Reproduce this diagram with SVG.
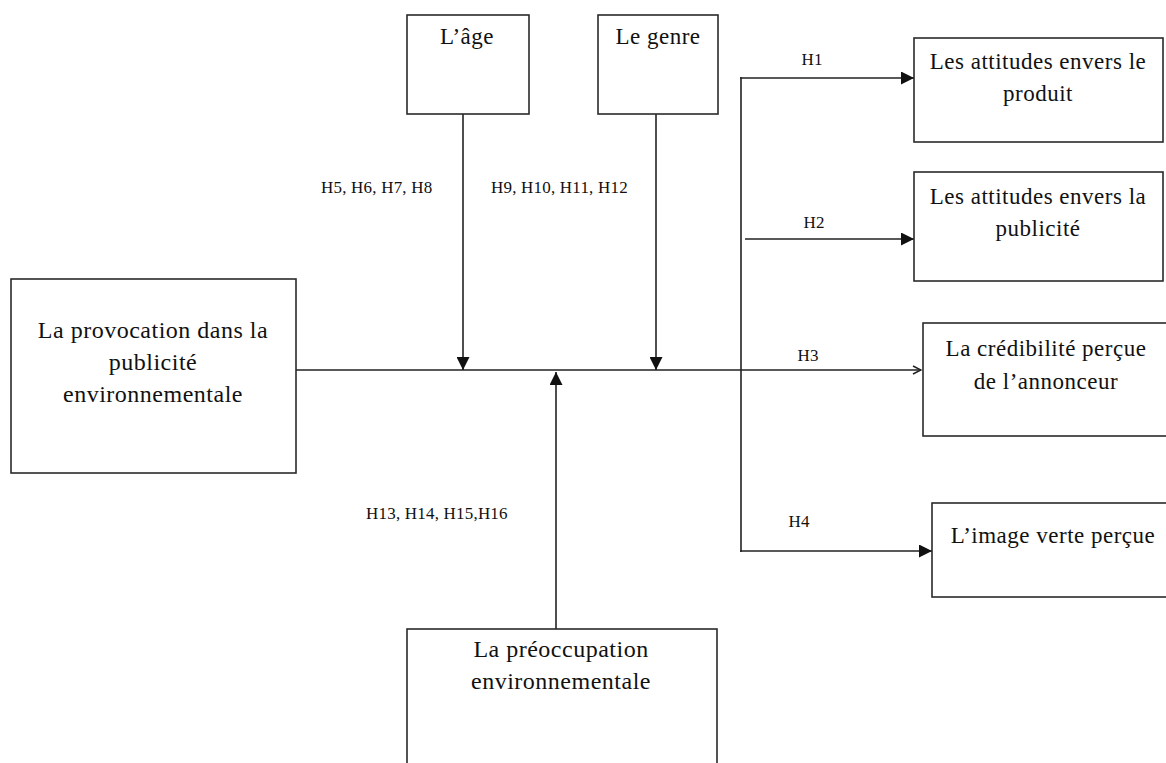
<svg xmlns="http://www.w3.org/2000/svg" width="1166" height="763" viewBox="0 0 1166 763">
<style>
.box{fill:#fff;stroke:#2a2a2a;stroke-width:1.6}
.t{font-family:"Liberation Serif","Times New Roman",serif;fill:#111;text-anchor:middle}
.big{font-size:24px;letter-spacing:0.5px}
.mid{font-size:23px;letter-spacing:0.5px}
.lab{font-family:"Liberation Serif","Times New Roman",serif;fill:#111;font-size:17px;letter-spacing:0.2px}
.ln{stroke:#222;stroke-width:1.6;fill:none}
</style>
<defs>
<marker id="ah" markerUnits="userSpaceOnUse" markerWidth="13" markerHeight="13" refX="13" refY="6.5" orient="auto" viewBox="0 0 13 13">
<path d="M0,0 L13,6.5 L0,13 z" fill="#111"/>
</marker>
<marker id="oa" markerUnits="userSpaceOnUse" markerWidth="10" markerHeight="10" refX="9" refY="5" orient="auto" viewBox="0 0 10 10">
<path d="M1,1 L9,5 L1,9" fill="none" stroke="#222" stroke-width="1.4"/>
</marker>
</defs>
<rect width="1166" height="763" fill="#fff"/>
<g id="connectors">
<line class="ln" x1="296" y1="370" x2="921" y2="370" marker-end="url(#oa)"/>
<line class="ln" x1="463" y1="114" x2="463" y2="370" marker-end="url(#ah)"/>
<line class="ln" x1="656" y1="114" x2="656" y2="370" marker-end="url(#ah)"/>
<line class="ln" x1="556" y1="629" x2="556" y2="372" marker-end="url(#ah)"/>
<line class="ln" x1="741" y1="77" x2="741" y2="552"/>
<line class="ln" x1="740" y1="78" x2="914" y2="78" marker-end="url(#ah)"/>
<line class="ln" x1="745" y1="239" x2="914" y2="239" marker-end="url(#ah)"/>
<line class="ln" x1="740" y1="551" x2="932" y2="551" marker-end="url(#ah)"/>
<text class="lab" x="812" y="65" text-anchor="middle">H1</text>
<text class="lab" x="814" y="228" text-anchor="middle">H2</text>
<text class="lab" x="808" y="361" text-anchor="middle">H3</text>
<text class="lab" x="799" y="527" text-anchor="middle">H4</text>
<text class="lab" x="321" y="193">H5, H6, H7, H8</text>
<text class="lab" x="491" y="193">H9, H10, H11, H12</text>
<text class="lab" x="366" y="519">H13, H14, H15,H16</text>
</g>
<g id="provocation">
<rect class="box" x="11" y="279" width="285" height="194"/>
<text class="t big" x="153" y="338">La provocation dans la</text>
<text class="t big" x="153" y="370">publicité</text>
<text class="t big" x="153" y="402">environnementale</text>
</g>
<g id="age">
<rect class="box" x="407" y="15" width="122" height="99"/>
<text class="t mid" x="467" y="44">L’âge</text>
</g>
<g id="genre">
<rect class="box" x="598" y="15" width="120" height="99"/>
<text class="t mid" x="658" y="44">Le genre</text>
</g>
<g id="attitudes-produit">
<rect class="box" x="914" y="38" width="249" height="104"/>
<text class="t mid" x="1038" y="69">Les attitudes envers le</text>
<text class="t mid" x="1038" y="101">produit</text>
</g>
<g id="attitudes-publicite">
<rect class="box" x="914" y="172" width="249" height="109"/>
<text class="t mid" x="1038" y="204">Les attitudes envers la</text>
<text class="t mid" x="1038" y="236">publicité</text>
</g>
<g id="credibilite">
<rect class="box" x="923" y="323" width="250" height="113"/>
<text class="t mid" x="1046" y="356">La crédibilité perçue</text>
<text class="t mid" x="1046" y="389">de l’annonceur</text>
</g>
<g id="image-verte">
<rect class="box" x="932" y="503" width="250" height="94"/>
<text class="t mid" x="1053" y="543">L’image verte perçue</text>
</g>
<g id="preoccupation">
<rect class="box" x="407" y="629" width="310" height="150"/>
<text class="t big" x="561" y="657">La préoccupation</text>
<text class="t big" x="561" y="689">environnementale</text>
</g>
</svg>
